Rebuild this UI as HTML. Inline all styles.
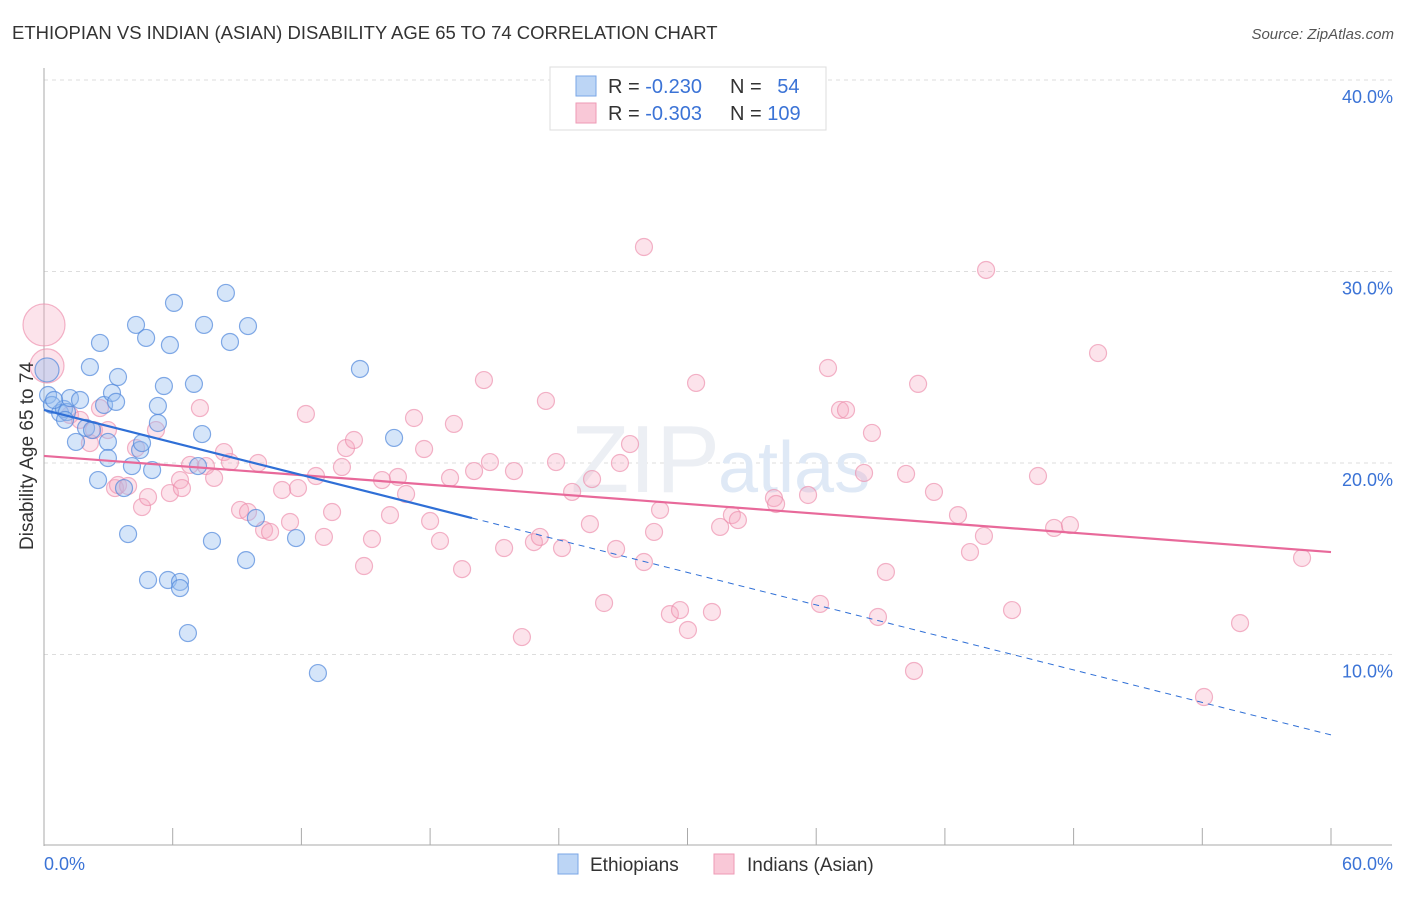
<!DOCTYPE html>
<html><head><meta charset="utf-8"><style>
body{margin:0;background:#fff;font-family:"Liberation Sans",sans-serif}
svg text{font-family:"Liberation Sans",sans-serif}
</style></head><body>
<svg id="chart" width="1406" height="892" xmlns="http://www.w3.org/2000/svg">
<text x="12" y="39" font-size="18.5" fill="#333">ETHIOPIAN VS INDIAN (ASIAN) DISABILITY AGE 65 TO 74 CORRELATION CHART</text>
<text x="1394" y="39" font-size="15" fill="#555" font-style="italic" text-anchor="end">Source: ZipAtlas.com</text>
<g id="grid"></g>
<text x="720" y="492" font-size="96" fill="#eceff4" text-anchor="end" font-family="Liberation Serif">ZIP</text>
<text x="718" y="492" font-size="72" fill="#dfe9f6">atlas</text>
<g id="axes"></g>
<g id="pts"></g>
<g id="trend"></g>
<text transform="translate(33,456) rotate(-90)" font-size="19" fill="#333" text-anchor="middle">Disability Age 65 to 74</text>
<g>
<rect x="550" y="67" width="276" height="63" fill="#fff" stroke="#ddd"/>
<rect x="576" y="76" width="20" height="20" fill="#bcd5f5" stroke="#7aa6e6"/>
<rect x="576" y="103" width="20" height="20" fill="#f9c8d7" stroke="#ee9ab5"/>
<text x="608" y="93" font-size="20" fill="#333">R = <tspan fill="#3b73d6">-0.230</tspan></text>
<text x="730" y="93" font-size="20" fill="#333">N = <tspan fill="#3b73d6" dx="10">54</tspan></text>
<text x="608" y="120" font-size="20" fill="#333">R = <tspan fill="#3b73d6">-0.303</tspan></text>
<text x="730" y="120" font-size="20" fill="#333">N = <tspan fill="#3b73d6">109</tspan></text>
</g>
<g>
<rect x="558" y="854" width="20" height="20" fill="#bcd5f5" stroke="#7aa6e6"/>
<text x="590" y="871" font-size="19" fill="#333">Ethiopians</text>
<rect x="714" y="854" width="20" height="20" fill="#f9c8d7" stroke="#ee9ab5"/>
<text x="747" y="871" font-size="19" fill="#333">Indians (Asian)</text>
</g>
</svg>
<script>
const yTicks=[10,20,30,40];
const yTickLabels=["10.0%","20.0%","30.0%","40.0%"];
const xTickLabels=["0.0%","60.0%"];
const ethX=[0.14,0.19,0.37,0.75,0.93,1.07,1.21,1.49,1.68,1.96,2.14,2.52,2.61,2.80,2.98,2.98,3.17,3.45,3.73,3.92,4.10,4.29,4.48,4.57,4.76,4.85,5.04,5.31,5.31,5.59,5.78,5.87,6.06,6.34,6.34,6.71,6.99,7.18,7.37,7.46,7.83,8.48,8.67,9.42,9.51,9.88,11.75,12.77,14.73,16.32,2.24,0.98,3.36,0.47];
const ethY=[24.86,23.55,23.03,22.61,22.82,22.66,23.39,21.10,23.29,21.83,25.01,19.11,26.27,23.03,21.10,20.26,23.66,24.49,18.69,16.29,19.84,27.21,20.68,21.04,26.53,13.89,19.63,22.09,22.98,24.02,13.89,26.16,28.36,13.79,13.47,11.12,24.13,19.84,21.51,27.21,15.93,28.88,26.32,14.93,27.15,17.13,16.08,9.03,24.91,21.31,21.72,22.25,23.19,23.29];
const indX=[0,0.14,1.21,1.68,2.14,2.33,2.61,2.98,3.31,3.45,3.92,4.29,4.57,4.85,5.22,5.87,6.34,6.43,6.81,7.27,7.55,7.93,8.39,8.67,9.14,9.51,9.98,10.26,10.54,11.10,11.47,11.84,12.21,12.68,13.05,13.43,13.89,14.08,14.45,14.92,15.29,15.76,16.13,16.50,16.88,17.25,17.72,18.00,18.46,18.93,19.11,19.49,20.05,20.51,20.79,21.45,21.91,22.28,22.84,23.12,23.40,23.87,24.15,24.62,25.45,25.55,26.11,26.67,26.85,27.32,27.97,27.97,28.44,28.72,29.18,29.65,30.02,30.40,31.14,31.52,32.07,32.35,34.03,34.13,35.62,36.18,36.55,37.11,37.39,38.23,38.60,38.88,39.25,40.19,40.56,40.75,41.49,42.61,43.17,43.82,43.92,45.13,46.34,47.09,47.83,49.14,54.08,55.76,58.65];
const indY=[27.21,25.07,22.51,22.25,21.04,21.72,22.87,21.72,18.69,18.85,18.80,20.78,17.70,18.22,21.72,18.43,19.11,18.69,19.90,22.87,19.84,19.22,20.57,20.05,17.55,17.44,20.00,16.50,16.40,18.59,16.92,18.69,22.56,19.32,16.14,17.44,19.79,20.78,21.20,14.62,16.03,19.11,17.28,19.27,18.38,22.35,20.73,16.97,15.93,19.22,22.04,14.46,19.58,24.33,20.05,15.56,19.58,10.91,15.87,16.14,23.24,20.05,15.56,18.49,16.81,19.16,12.69,15.51,20.00,20.99,14.83,31.28,16.40,17.55,12.11,12.32,11.28,24.18,12.22,16.66,17.28,17.02,18.17,17.86,18.33,12.64,24.96,22.77,22.77,19.48,21.57,11.96,14.31,19.43,9.14,24.13,18.49,17.28,15.35,16.19,30.08,12.32,19.32,16.61,16.76,25.74,7.78,11.64,15.04];
const ethTrend=[22.77,5.80];
const ethSolidEnd=19.95;
const indTrend=[20.37,15.35];
const X0=44,X1=1331,Y0=846,PPY=19.15;
const sx=v=>X0+(v/60)*(X1-X0);
const sy=v=>Y0-v*PPY;
const NS="http://www.w3.org/2000/svg";
function mk(t,a,p){const e=document.createElementNS(NS,t);for(const k in a)e.setAttribute(k,a[k]);p.appendChild(e);return e;}
const grid=document.getElementById('grid'),axes=document.getElementById('axes'),pts=document.getElementById('pts'),tr=document.getElementById('trend');
yTicks.forEach((t,i)=>{
 const l=mk('line',{x1:44,x2:1392,y1:sy(t),y2:sy(t),stroke:'#ddd','stroke-dasharray':'4,4'},grid);
 
 
 const tx=mk('text',{x:1393,y:sy(t)+23,'font-size':18,fill:'#3b73d6','text-anchor':'end'},grid);
 tx.textContent=yTickLabels[i];
 
 
});
mk('line',{x1:44,x2:44,y1:68,y2:846,stroke:'#aaa'},axes);
mk('line',{x1:44,x2:1392,y1:845,y2:845,stroke:'#aaa'},axes);
for(let i=1;i<=10;i++){const x=sx(i*6);const t=mk('line',{x1:x,x2:x,y1:828,y2:845,stroke:'#aaa'},axes);
 
 }
const xl0=mk('text',{x:44,y:870,'font-size':18,fill:'#3b73d6'},axes);xl0.textContent=xTickLabels[0];


const xl1=mk('text',{x:1393,y:870,'font-size':18,fill:'#3b73d6','text-anchor':'end'},axes);xl1.textContent=xTickLabels[1];


indX.forEach((x,i)=>{let r=8.5;if(i===0)r=21;if(i===1)r=17;
 const c=mk('circle',{cx:sx(x),cy:sy(indY[i]),r:r,fill:'rgba(246,170,195,0.33)',stroke:'rgba(236,140,170,0.65)','stroke-width':1.2},pts);
 
 });
ethX.forEach((x,i)=>{let r=8.5;if(i===0)r=12;
 const c=mk('circle',{cx:sx(x),cy:sy(ethY[i]),r:r,fill:'rgba(150,190,240,0.4)',stroke:'rgba(80,135,220,0.7)','stroke-width':1.2},pts);
 
 });
const ey=x=>ethTrend[0]+(ethTrend[1]-ethTrend[0])*x/60;
const l1=mk('line',{x1:sx(0),y1:sy(indTrend[0]),x2:sx(60),y2:sy(indTrend[1]),stroke:'#e8699a','stroke-width':2.2},tr);


const l2=mk('line',{x1:sx(0),y1:sy(ey(0)),x2:sx(ethSolidEnd),y2:sy(ey(ethSolidEnd)),stroke:'#2f6fd6','stroke-width':2.2},tr);


const l3=mk('line',{x1:sx(ethSolidEnd),y1:sy(ey(ethSolidEnd)),x2:sx(60),y2:sy(ey(60)),stroke:'#2f6fd6','stroke-width':1,'stroke-dasharray':'6,5'},tr);


</script>
</body></html>
